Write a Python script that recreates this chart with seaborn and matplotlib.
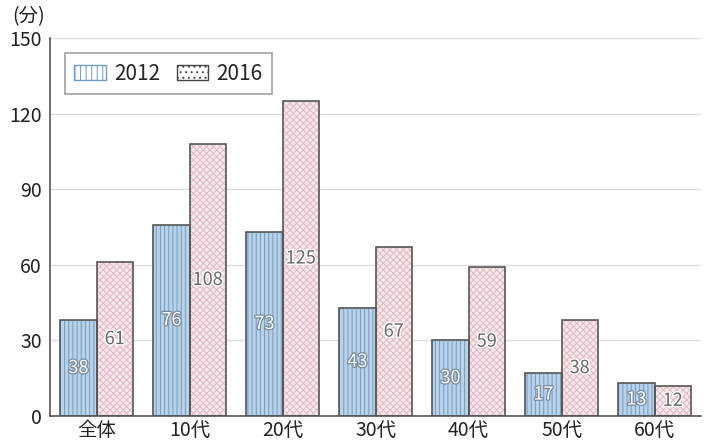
import pandas as pd
import matplotlib.pyplot as plt
import matplotlib.patheffects as pe
from matplotlib.patches import Patch
import seaborn as sns

# data (minutes)
categories = ["全体", "10代", "20代", "30代", "40代", "50代", "60代"]
years = ["2012", "2016"]
values_2012 = [38, 76, 73, 43, 30, 17, 13]
values_2016 = [61, 108, 125, 67, 59, 38, 12]
y_ticks = [0, 30, 60, 90, 120, 150]

fill_colors = {"2012": "#b3d2ee", "2016": "#f9e6e9"}
hatch_colors = {"2012": "#6f9cc9", "2016": "#e2b9c0"}
hatches = {"2012": "||||", "2016": "xxxxx"}
edge_color = "#555555"

df = pd.DataFrame({
    "category": categories * 2,
    "year": ["2012"] * len(categories) + ["2016"] * len(categories),
    "minutes": values_2012 + values_2016,
})

#Setting styles
sns.set_theme(style="white")
plt.rcParams["font.family"] = ["Noto Sans CJK JP", "DejaVu Sans"]
plt.rcParams["hatch.linewidth"] = 0.7

fig = plt.figure(figsize=(7.06, 4.43), dpi=100)
ax = fig.add_axes([0.071, 0.061, 0.922, 0.853])

#grid behind bars
ax.set_axisbelow(True)
ax.yaxis.grid(True, color="#dedede", linewidth=1)

#bottom layer: fill + hatch
sns.barplot(data=df, x="category", y="minutes", hue="year", hue_order=years,
            palette=fill_colors, width=0.78, linewidth=0, legend=False, ax=ax)
n = len(categories)
base_patches = list(ax.patches)
for i, p in enumerate(base_patches):
    yr = years[i // n]
    p.set_hatch(hatches[yr])
    p.set_edgecolor(hatch_colors[yr])
    p.set_linewidth(0)

#top layer: outlines only
sns.barplot(data=df, x="category", y="minutes", hue="year", hue_order=years,
            palette=fill_colors, width=0.78, linewidth=1.2, edgecolor=edge_color,
            legend=False, ax=ax)
for p in ax.patches[len(base_patches):]:
    p.set_facecolor("none")

#value labels at bar middles
for i, p in enumerate(base_patches):
    yr = years[i // n]
    h = p.get_height()
    xc = p.get_x() + p.get_width() / 2
    if yr == "2012":
        ax.text(xc, h / 2, str(int(h)), ha="center", va="center", fontsize=13,
                color="white", path_effects=[pe.withStroke(linewidth=1.8, foreground="#7a8a9a")])
    else:
        ax.text(xc, h / 2, str(int(h)), ha="center", va="center", fontsize=13,
                color="#666666", path_effects=[pe.withStroke(linewidth=2, foreground="white")])

#axes
ax.set_xlim(-0.5, n - 0.5)
ax.set_ylim(0, 150)
ax.set_yticks(y_ticks)
ax.set_xlabel("")
ax.set_ylabel("")
ax.tick_params(axis="both", length=0, labelsize=14, colors="#222222", pad=6)
ax.tick_params(axis="x", pad=3)
ax.set_xticks([i + 0.5 for i in range(n - 1)] + [n - 0.5], minor=True)
ax.tick_params(axis="x", which="minor", direction="in", length=6, color=edge_color, width=1)
for s in ["top", "right"]:
    ax.spines[s].set_visible(False)
for s in ["left", "bottom"]:
    ax.spines[s].set_color(edge_color)
    ax.spines[s].set_linewidth(1.2)

fig.text(12 / 706, 1 - 17 / 443, "(分)", fontsize=14, color="#222222",
         ha="left", va="center")

#legend
handles = [Patch(facecolor="white", edgecolor=hatch_colors["2012"], hatch="|||"),
           Patch(facecolor="white", edgecolor="#444444", hatch="...")]
leg = ax.legend(handles, years, loc="upper left", bbox_to_anchor=(0.023, 0.96), ncol=2,
                fontsize=15, frameon=True, fancybox=False, edgecolor="#888888",
                handlelength=1.5, handleheight=0.7, handletextpad=0.4,
                columnspacing=0.8, borderpad=0.45, borderaxespad=0)
leg.get_frame().set_linewidth(1.2)

#Saving
plt.savefig("out.png", dpi=100)
